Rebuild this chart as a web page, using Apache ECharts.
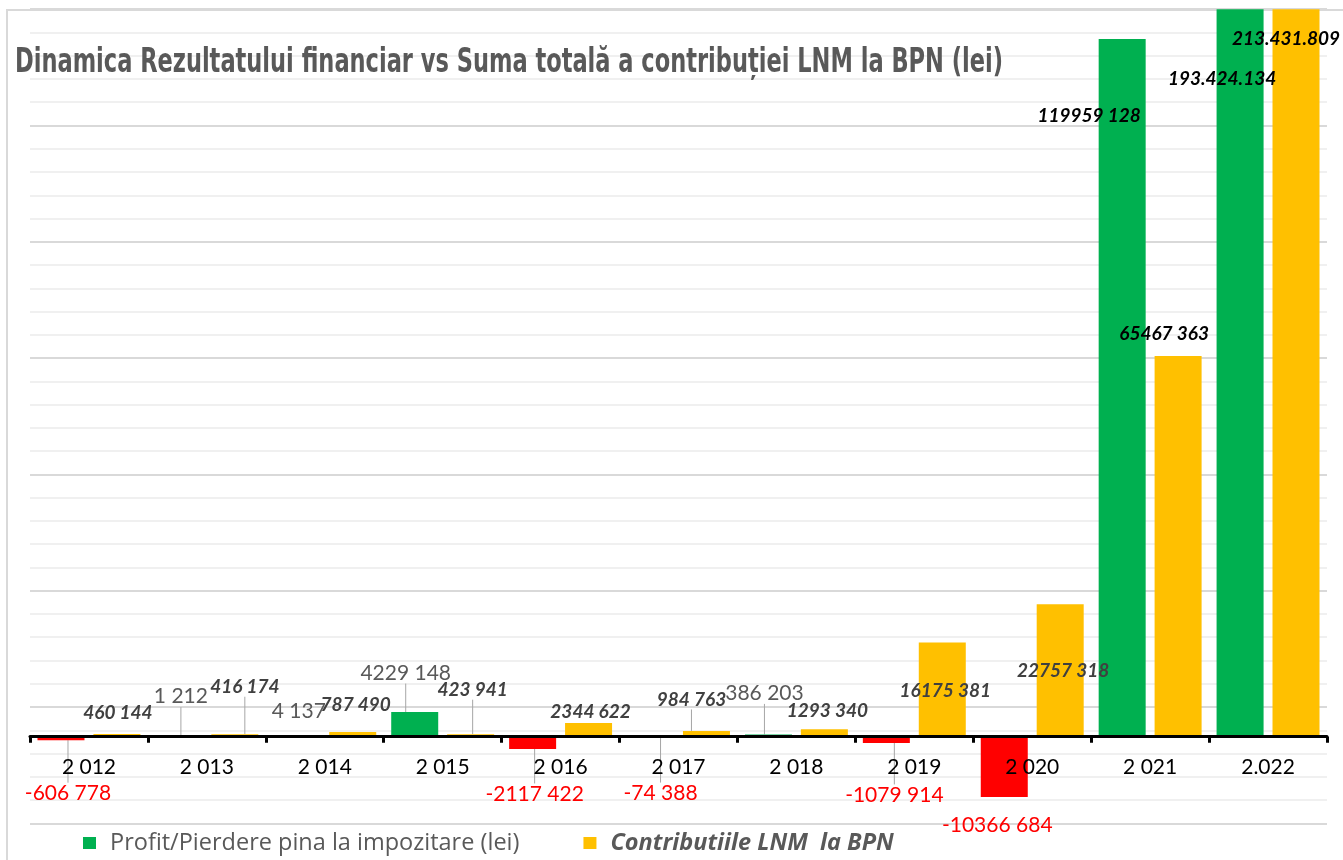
<!DOCTYPE html>
<html>
<head>
<meta charset="utf-8">
<script src="https://cdn.jsdelivr.net/npm/echarts@6/dist/echarts.min.js"></script>
<style>html,body{margin:0;padding:0;background:#fff}#c{width:1343px;height:860px}</style>
</head>
<body>
<div id="c"></div>
<script>
const titleText = 'Dinamica Rezultatului financiar vs Suma totală a contribuției LNM la BPN (lei)';
const categories = ['2 012','2 013','2 014','2 015','2 016','2 017','2 018','2 019','2 020','2 021','2.022'];
const seriesNames = ['Profit/Pierdere pina la impozitare (lei)', 'Contributiile LNM  la BPN'];
const profit = [-606778, 1212, 4137, 4229148, -2117422, -74388, 386203, -1079914, -10366684, 119959128, 193424134];
const contributions = [460144, 416174, 787490, 423941, 2344622, 984763, 1293340, 16175381, 22757318, 65467363, 213431809];

// value-axis range (lei)
const Y_MIN = -14.9e6, Y_MAX = 125.1e6;

// label placement (offset of label centre from bar end, px) and leader-line flags
const profitLabelOffsets = [[7,53],[2,-40],[2,-25],[-9,-39],[2,45],[10,56],[-4,-41],[8,52],[-7,28],[-33,77],[-18,70]];
const contribLabelOffsets = [[1,-21],[10,-47],[3,-27],[2,-44],[2,-11],[-15,-31],[3,-18],[3,48],[3,67],[-14,-22],[-10,30]];
const profitLines = [1,1,0,1,1,1,1,1,0,0,0];
const contribLines = [0,1,0,1,0,1,0,0,0,0,0];

const GREEN = '#00B050', YELLOW = '#FFC000', RED = '#FF0000';
const FONT = 'Lato';

function fmt(v, dotted) {
  const sign = v < 0 ? '-' : '';
  const a = Math.abs(v);
  if (dotted) {
    return sign + String(a).replace(/\B(?=(\d{3})+(?!\d))/g, '.');
  }
  const th = Math.floor(a / 1000), r = a % 1000;
  return th > 0 ? sign + th + ' ' + String(r).padStart(3, '0') : sign + r;
}
const big = i => i >= 9;

const profitData = profit.map((v, i) => ({
  value: v,
  itemStyle: { color: v < 0 ? RED : GREEN },
  label: big(i) ? { color: '#000', fontWeight: 'bold', fontStyle: 'italic', fontSize: 19 }
       : { color: v < 0 ? RED : '#595959', fontWeight: 'normal', fontStyle: 'normal', fontSize: 21 },
  labelLine: { show: !!profitLines[i] }
}));
const contribData = contributions.map((v, i) => ({
  value: v,
  label: big(i) ? { color: '#000' } : { color: '#404040' },
  labelLine: { show: !!contribLines[i] }
}));

function layoutFor(offsets, values) {
  return function (p) {
    const r = p.rect;
    const v = values[p.dataIndex];
    const end = v < 0 ? r.y + r.height : r.y;
    const o = offsets[p.dataIndex];
    return { x: r.x + r.width / 2 + o[0], y: end + o[1], align: 'center', verticalAlign: 'middle' };
  };
}

// title width fitting (font is condensed in the reference)
const cv = document.createElement('canvas').getContext('2d');
const TITLE_FONT_SIZE = 34;
cv.font = 'bold ' + TITLE_FONT_SIZE + 'px "DejaVu Sans Condensed"';
const tw = cv.measureText(titleText).width;
const titleScale = 988 / tw;

const GRID_TOP = 9.2, GRID_BOTTOM = 36.7, H = 860;
const gridH = H - GRID_TOP - GRID_BOTTOM;
const zeroOffset = -(0 - Y_MIN) / (Y_MAX - Y_MIN) * gridH;

const chart = echarts.init(document.getElementById('c'), null, { renderer: 'canvas' });
const labelLineStyle = { color: '#a6a6a6', width: 1 };

chart.setOption({
  backgroundColor: '#fff',
  animation: false,
  graphic: [
    { type: 'rect', silent: true, z: -10, shape: { x: 7, y: 10, width: 1400, height: 900 },
      style: { fill: 'none', stroke: '#d9d9d9', lineWidth: 2 } },
    { type: 'text', silent: true, z: 100, x: 15, y: 63, scaleX: titleScale, originX: 0,
      style: { text: titleText, fill: '#595959', font: 'bold ' + TITLE_FONT_SIZE + 'px "DejaVu Sans Condensed"',
               verticalAlign: 'middle', align: 'left' } }
  ],
  legend: {
    left: 83, top: 831, padding: 0,
    itemWidth: 13, itemHeight: 12, itemGap: 64,
    icon: 'rect',
    textStyle: { fontFamily: 'Open Sans', fontSize: 23.5, color: '#595959', padding: [0, 0, 0, 9] },
    data: [
      { name: seriesNames[0] },
      { name: seriesNames[1], textStyle: { fontStyle: 'italic', fontWeight: 'bold' } }
    ]
  },
  grid: { left: 30, right: 16, top: GRID_TOP, bottom: GRID_BOTTOM, containLabel: false },
  xAxis: {
    type: 'category',
    data: categories,
    z: 5,
    position: 'bottom',
    offset: zeroOffset,
    axisLine: { onZero: false, lineStyle: { color: '#000', width: 3 } },
    axisTick: { show: true, length: 6, lineStyle: { color: '#000', width: 3 } },
    axisLabel: { color: '#000', fontFamily: FONT, fontSize: 21, margin: 20 },
    splitLine: { show: false }
  },
  yAxis: [
    { type: 'value', min: Y_MIN, max: Y_MAX,
      axisLine: { show: false }, axisTick: { show: false }, axisLabel: { show: false }, splitLine: { show: false } },
    { type: 'value', min: 0, max: 140, interval: 20, position: 'right',
      axisLine: { show: false }, axisTick: { show: false }, axisLabel: { show: false },
      splitLine: { show: true, lineStyle: { color: '#d9d9d9', width: 2 } },
      minorTick: { show: false, splitNumber: 5 },
      minorSplitLine: { show: true, lineStyle: { color: '#f0f0f0', width: 2 } } }
  ],
  series: [
    {
      name: seriesNames[0], type: 'bar', yAxisIndex: 0,
      data: profitData, color: GREEN,
      barWidth: 47, barGap: '19%',
      emphasis: { disabled: true },
      label: { show: true, position: 'top', fontFamily: FONT, fontSize: 21,
               formatter: p => fmt(p.value, categories[p.dataIndex].includes('.')) },
      labelLine: { show: false, lineStyle: labelLineStyle },
      labelLayout: layoutFor(profitLabelOffsets, profit)
    },
    {
      name: seriesNames[1], type: 'bar', yAxisIndex: 0,
      data: contribData, color: YELLOW,
      barWidth: 47, barGap: '19%',
      emphasis: { disabled: true },
      label: { show: true, position: 'top', fontFamily: FONT, fontSize: 19, fontWeight: 'bold', fontStyle: 'italic',
               formatter: p => fmt(p.value, categories[p.dataIndex].includes('.')) },
      labelLine: { show: false, lineStyle: labelLineStyle },
      labelLayout: layoutFor(contribLabelOffsets, contributions)
    }
  ]
});
</script>
</body>
</html>
